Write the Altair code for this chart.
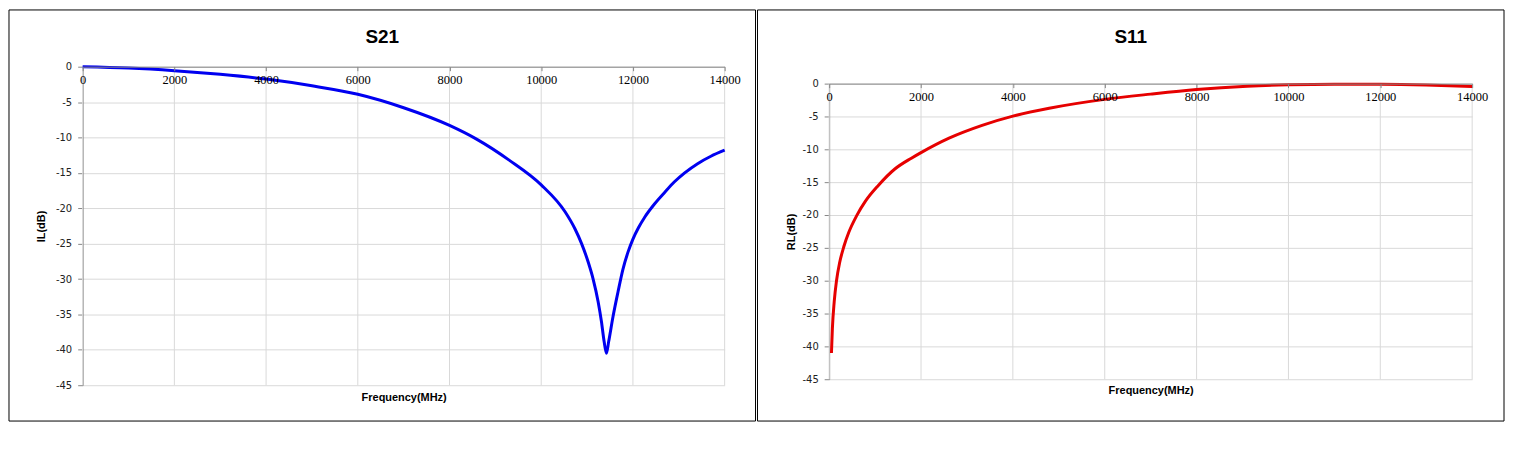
import altair as alt
import pandas as pd

# ---- data ----
s21_freq = [0, 1000, 2000, 3000, 4000, 5000, 6000, 7000, 8000, 8580, 9300,
            10000, 10520, 10735, 10880, 11024, 11132, 11241, 11313, 11371, 11422,
            11472, 11566, 11675, 11783, 11892, 12000, 12120, 12253, 12470, 12700,
            12900, 13410, 13700, 14000]
s21_db = [0, -0.19, -0.56, -1.08, -1.75, -2.7, -3.9, -5.8, -8.3, -10.2, -13.2,
          -16.7, -20.5, -22.9, -25.0, -27.6, -30.0, -33.2, -36.0, -38.8, -40.5,
          -38.8, -35.3, -31.8, -28.6, -26.2, -24.35, -22.75, -21.3, -19.4, -17.7,
          -16.3, -13.7, -12.65, -11.8]

s11_freq = [50, 70, 110, 160, 230, 320, 430, 600, 790, 1070, 1430, 1790, 2000,
            2610, 3330, 4000, 4790, 6000, 7000, 8000, 9100, 10000, 11000, 12000,
            13000, 14000]
s11_db = [-41.0, -37.3, -33.2, -30.0, -27.2, -24.8, -22.6, -20.1, -17.9, -15.5,
          -13.0, -11.35, -10.5, -8.3, -6.35, -4.95, -3.75, -2.4, -1.6, -0.9, -0.4,
          -0.18, -0.08, -0.1, -0.22, -0.45]

x_ticks = [0, 2000, 4000, 6000, 8000, 10000, 12000, 14000]
y_ticks = [0, -5, -10, -15, -20, -25, -30, -35, -40, -45]

titles = ["S21", "S11"]
y_titles = ["IL(dB)", "RL(dB)"]
x_title = "Frequency(MHz)"

GRID = "#D9D9D9"
AXIS = "#868686"
FW, FH = 750, 413  # panel frame size
TOP = 57           # frame top above each view's origin (same for both panels)


def panel(freq, db, color, title, ytitle, W, H, inner, left, ytx, xty):
    """inner: gap between the view top and the 0 dB line."""
    VH = H + inner
    df = pd.DataFrame({"f": freq, "db": db})
    grid_df = pd.DataFrame({"f": x_ticks})
    one = pd.DataFrame({"k": [0]})

    x_enc = alt.X(
        "f:Q", scale=alt.Scale(domain=[0, 14000], nice=False, zero=False),
        axis=alt.Axis(
            orient="bottom", offset=-H, values=x_ticks, zindex=1,
            labelExpr="'' + datum.value",
            labelFont="Liberation Serif", labelFontSize=12.5, labelColor="#000000",
            labelPadding=3, labelFlush=False, labelOverlap=False,
            tickSize=4, tickColor=AXIS, domainColor=AXIS, grid=False,
            title=x_title, titleX=W / 2, titleY=H + xty,
            titleFont="Liberation Sans", titleFontSize=11, titleFontWeight="bold",
            titleColor="#000000", titleAlign="center", titleBaseline="middle",
        ))

    frame = alt.Chart(one).mark_rect(
        filled=False, stroke="#000000", strokeWidth=1
    ).encode(
        x=alt.value(-left), x2=alt.value(FW - left),
        y=alt.value(-TOP), y2=alt.value(FH - TOP),
    )

    vgrid = alt.Chart(grid_df).mark_rule(color=GRID, strokeWidth=1).encode(
        x=x_enc, y=alt.value(inner), y2=alt.value(VH)
    )

    ttl = alt.Chart(one).mark_text(
        text=title, font="Liberation Sans", fontWeight="bold", fontSize=19,
        align="center", baseline="alphabetic", color="#000000"
    ).encode(x=alt.value(FW / 2 - left), y=alt.value(33 - TOP))

    line = alt.Chart(df).mark_line(
        color=color, strokeWidth=3, interpolate="monotone"
    ).encode(
        x=x_enc,
        y=alt.Y("db:Q", scale=alt.Scale(domain=[-45, 0], nice=False, range=[VH, inner]),
                axis=alt.Axis(
                    values=y_ticks, labelExpr="'' + datum.value",
                    labelFont="DejaVu Sans", labelFontSize=10, labelColor="#222222",
                    labelPadding=6, tickSize=5, tickColor=AXIS, domainColor=AXIS,
                    grid=True, gridColor=GRID,
                    title=ytitle, titleX=ytx, titleY=inner + H / 2, titleAngle=270,
                    titleFont="Liberation Sans", titleFontSize=11, titleFontWeight="bold",
                    titleColor="#000000", titleAlign="center", titleBaseline="middle",
                )),
    )

    return alt.layer(frame, vgrid, line, ttl).properties(width=W, height=VH)


left = panel(s21_freq, s21_db, "#0000F0", titles[0], y_titles[0],
             W=645, H=320, inner=0, left=74, ytx=-41, xty=12)
right = panel(s11_freq, s11_db, "#E60000", titles[1], y_titles[1],
              W=646, H=297, inner=17, left=72, ytx=-38, xty=11)

chart = alt.hconcat(left, right, spacing=0).properties(
    padding=0, background="white"
).configure_view(stroke="transparent")

chart.save("out.html", embed_options={"renderer": "svg", "actions": False})
